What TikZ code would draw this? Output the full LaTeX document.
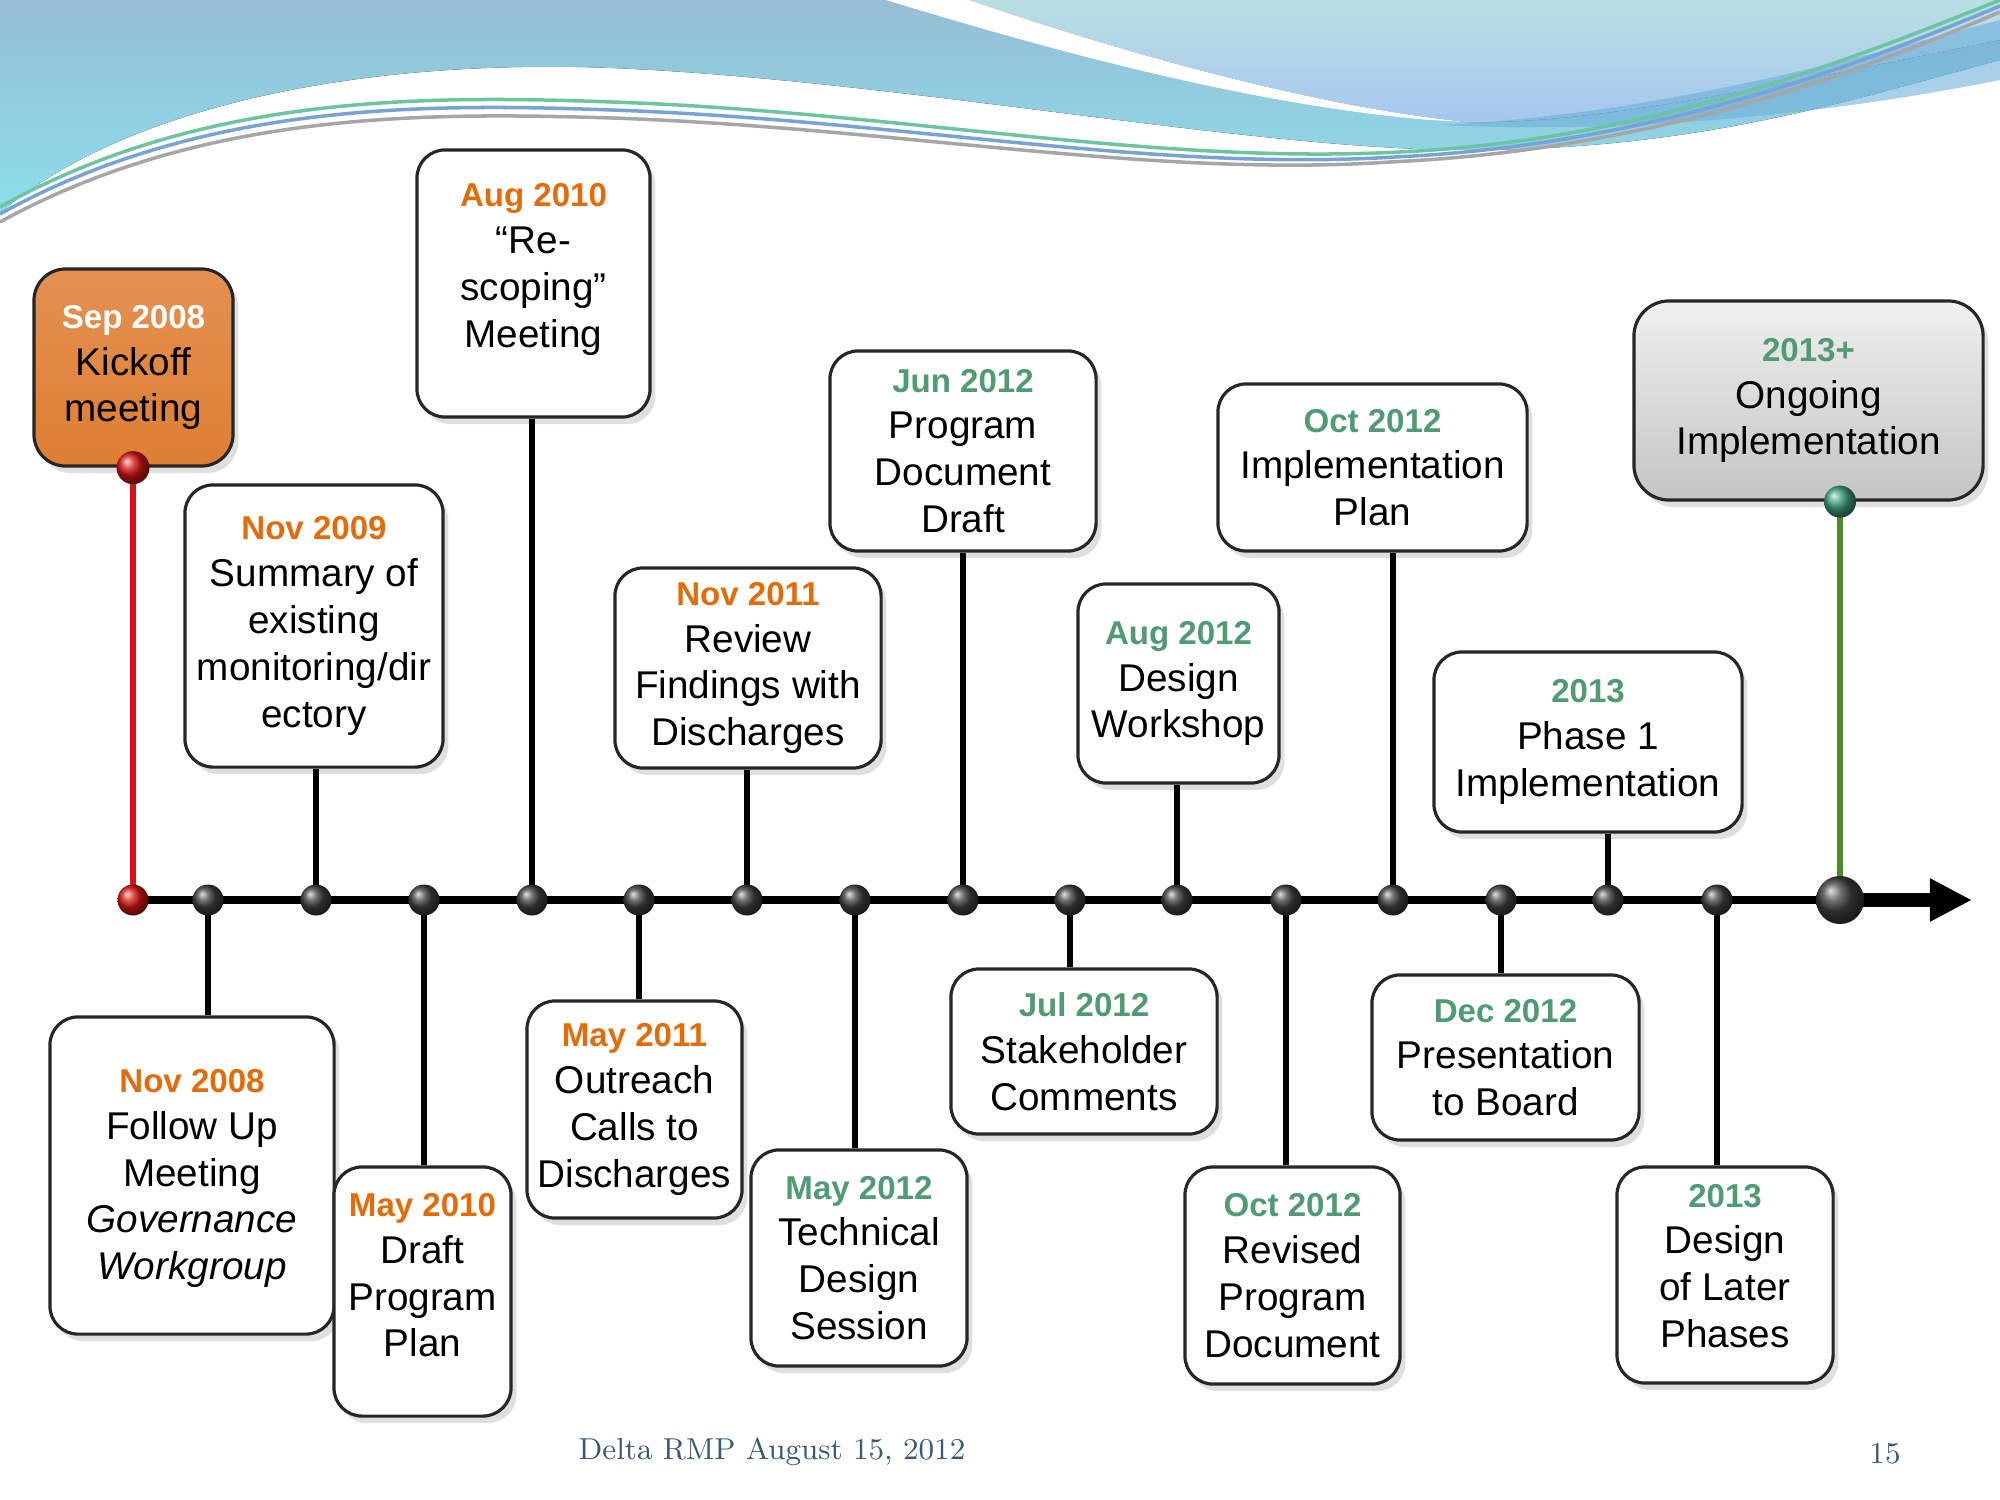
\documentclass[tikz,border=0pt]{standalone}
\usepackage{fontspec}
\setsansfont{Liberation Sans}
\usetikzlibrary{arrows.meta, positioning, shadows}

\definecolor{datered}{HTML}{E36C0A}
\definecolor{dategreen}{HTML}{4F9B72}
\definecolor{kickorange}{HTML}{DE7E33}
\definecolor{ongoinggray}{HTML}{C4C4C4}
\definecolor{skyblue}{HTML}{96BED4}
\definecolor{skycyan}{HTML}{8CDEEC}
\definecolor{paleblue}{HTML}{B8E0E4}
\definecolor{lavblue}{HTML}{A6C6EE}
\definecolor{ribblue}{HTML}{6FB0DA}
\definecolor{linegreen}{HTML}{6CC4A0}
\definecolor{lineblue}{HTML}{3E7BC4}
\definecolor{footblue}{HTML}{3B5878}
\definecolor{stemred}{HTML}{D41414}
\definecolor{stemgreen}{HTML}{4C8A2E}
\definecolor{ballgreen}{HTML}{3DA07A}

\newcommand{\orangeyr}[1]{{\fontsize{9.4}{11}\selectfont\bfseries\color{datered}#1}}
\newcommand{\greenyr}[1]{{\fontsize{9.4}{11}\selectfont\bfseries\color{dategreen}#1}}

\tikzset{
  event/.style={draw=black!85, line width=0.9pt, rounded corners=8pt, fill=white,
    align=center, inner sep=2pt, font=\sffamily\fontsize{11}{13.3}\selectfont,
    drop shadow={shadow xshift=1.5pt, shadow yshift=-2pt, opacity=0.25}},
  tldot/.style={circle, inner sep=0pt, minimum size=0.31cm, shading=ball, ball color=black!75},
  stemline/.style={line width=1.6pt, black},
}

\begin{document}
\begin{tikzpicture}[x=0.01cm, y=-0.01cm]
	\useasboundingbox (0,0) rectangle (2000,1500);
	% header waves
	\fill[top color=skyblue, bottom color=skycyan] (0,0) -- (2000,0) -- (2000,60) .. controls (1850,100) and (1700,150) .. (1467,150) .. controls (1250,150) and (900,80) .. (612,68) .. controls (350,58) and (120,110) .. (0,213) -- cycle;
	\fill[top color=paleblue, bottom color=lavblue] (969,0) -- (2000,0) -- (2000,40) .. controls (1800,80) and (1600,125) .. (1467,122) .. controls (1300,105) and (1100,45) .. (969,0) -- cycle;
	\fill[ribblue, opacity=0.6] (1440,125) .. controls (1650,115) and (1850,60) .. (2000,20) -- (2000,80) .. controls (1850,110) and (1650,135) .. (1440,125) -- cycle;
	\fill[white] (886,0) .. controls (1050,50) and (1250,105) .. (1430,120) -- (1467,122) .. controls (1300,105) and (1100,45) .. (969,0) -- cycle;
	\draw[linegreen, line width=1pt] (0,207) .. controls (200,95) and (420,95) .. (612,102) .. controls (900,112) and (1150,165) .. (1400,152) .. controls (1650,140) and (1850,60) .. (2000,0);
	\draw[lineblue!70, line width=1pt] (0,214) .. controls (200,103) and (420,103) .. (612,110) .. controls (900,120) and (1150,172) .. (1395,157) .. controls (1650,145) and (1850,68) .. (2000,6);
	\draw[gray!70, line width=1pt] (0,222) .. controls (200,112) and (420,112) .. (612,118) .. controls (900,128) and (1150,178) .. (1390,162) .. controls (1650,150) and (1850,76) .. (2000,12);

	% events above the line
	\node[event, top color=kickorange!85!white, bottom color=kickorange, rounded corners=9pt, minimum width=1.99cm, minimum height=1.97cm] (kickoff) at (133.5,367.5) {{\fontsize{9.4}{11}\selectfont\bfseries\color{white}Sep 2008}\\Kickoff\\meeting};
	\node[event, minimum width=2.58cm, minimum height=2.82cm] (summary) at (314,626) {\orangeyr{Nov 2009}\\Summary of\\existing\\monitoring/dir\\ectory};
	\node[event, minimum width=2.33cm, minimum height=2.67cm] (rescoping) at (533.5,283.5) {\orangeyr{Aug 2010}\\“Re-\\scoping”\\Meeting\\[-3pt]\mbox{}};
	\node[event, minimum width=2.66cm, minimum height=2.00cm] (review) at (748,668) {\orangeyr{Nov 2011}\\Review\\Findings with\\Discharges};
	\node[event, minimum width=2.66cm, minimum height=2.00cm] (draftdoc) at (963,451) {\greenyr{Jun 2012}\\Program\\Document\\Draft};
	\node[event, minimum width=2.01cm, minimum height=1.99cm] (workshop) at (1178.5,683.5) {\greenyr{Aug 2012}\\Design\\Workshop};
	\node[event, minimum width=3.09cm, minimum height=1.67cm] (implplan) at (1372.5,467.5) {\greenyr{Oct 2012}\\Implementation\\Plan};
	\node[event, minimum width=3.08cm, minimum height=1.80cm] (phaseone) at (1588,742) {\greenyr{2013}\\Phase 1\\Implementation};
	\node[event, top color=gray!12, bottom color=ongoinggray, rounded corners=10pt, minimum width=3.49cm, minimum height=1.99cm] (ongoing) at (1808.5,400.5) {\greenyr{2013+}\\Ongoing\\Implementation};

	% events below the line
	\node[event, minimum width=2.84cm, minimum height=3.17cm] (followup) at (192,1175.5) {\mbox{}\\[-5pt]\orangeyr{Nov 2008}\\Follow Up\\Meeting\\\textit{Governance}\\\textit{Workgroup}};
	\node[event, minimum width=1.77cm, minimum height=2.49cm] (draftplan) at (422.5,1291.5) {\orangeyr{May 2010}\\Draft\\Program\\Plan\\[-4pt]\mbox{}};
	\node[event, minimum width=2.15cm, minimum height=2.17cm] (outreach) at (634.5,1109.5) {\orangeyr{May 2011}\\Outreach\\Calls to\\Discharges};
	\node[event, minimum width=2.16cm, minimum height=2.16cm] (techdesign) at (859,1258) {\greenyr{May 2012}\\Technical\\Design\\Session};
	\node[event, minimum width=2.66cm, minimum height=1.65cm] (stakeholder) at (1084,1051.5) {\greenyr{Jul 2012}\\Stakeholder\\Comments};
	\node[event, minimum width=2.15cm, minimum height=2.17cm] (revised) at (1292.5,1275.5) {\greenyr{Oct 2012}\\Revised\\Program\\Document};
	\node[event, minimum width=2.67cm, minimum height=1.65cm] (board) at (1505.5,1057.5) {\greenyr{Dec 2012}\\Presentation\\to Board};
	\node[event, minimum width=2.16cm, minimum height=2.16cm] (laterphases) at (1725,1275) {\greenyr{2013}\\Design\\of Later\\Phases\\[-8pt]\mbox{}};

	% timeline points
	\foreach \i/\x in {0/133, 1/208, 2/316, 3/424, 4/532, 5/639, 6/747, 7/855, 8/963, 9/1070, 10/1177, 11/1286, 12/1393, 13/1501, 14/1608, 15/1717, 16/1840}
		\coordinate (d\i) at (\x,900);
	\coordinate (tip) at (1972,900);

	% stems
	\draw[stemline, stemred] (d0 |- kickoff.south) -- (d0);
	\draw[stemline, stemgreen] (d16 |- ongoing.south) -- (d16);
	\foreach \i/\evt in {2/summary, 4/rescoping, 6/review, 8/draftdoc, 10/workshop, 12/implplan, 14/phaseone}
		\draw[stemline] (d\i) -- (d\i |- \evt.south);
	\foreach \i/\evt in {1/followup, 3/draftplan, 5/outreach, 7/techdesign, 9/stakeholder, 11/revised, 13/board, 15/laterphases}
		\draw[stemline] (d\i) -- (d\i |- \evt.north);

	% main line
	\draw[line width=2pt] (d0) -- (d16);
	\draw[line width=4pt, -{Triangle[length=12pt, width=11.5pt]}] (d16) -- (tip);

	\foreach \i in {1,...,15}
		\node[tldot] (dot\i) at (d\i) {};
	\node[tldot, ball color=stemred] (dot0) at (d0) {};
	\node[tldot, minimum size=0.48cm] (dot16) at (d16) {};
	\node[tldot, ball color=stemred, minimum size=0.33cm] (kickball) at (d0 |- kickoff.south) {};
	\node[tldot, ball color=ballgreen, minimum size=0.32cm] (ongoingball) at (d16 |- ongoing.south) {};

	% footer
	\node[font=\rmfamily\fontsize{8.6}{10}\selectfont, text=footblue] (footer) at (772,1452) {Delta RMP August 15, 2012};
	\node[font=\rmfamily\fontsize{8.6}{10}\selectfont, text=footblue] (pagenum) at (1885,1454) {15};
\end{tikzpicture}
\end{document}
